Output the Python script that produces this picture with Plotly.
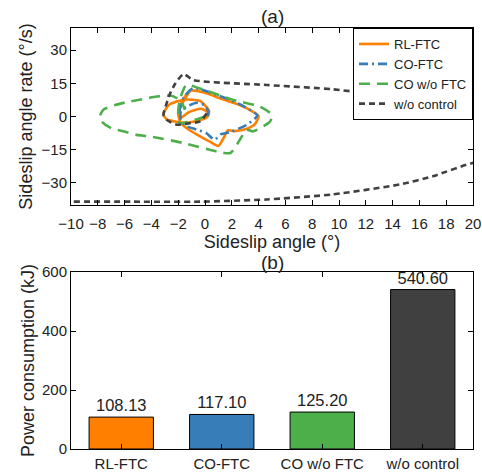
import plotly.graph_objects as go

# ---- data (a): phase trajectories (sideslip angle [deg], rate [deg/s]) ----
rl_x = [0.2, 0.3, -0.37, -1.6, -2.7, -3.1, -2.85, -1.6, -0.6, 0.1, 0.3, -0.3, -1.2, -1.9, -2.0, -1.7, -1.1,
        0.0, 1.2, 2.5, 3.4, 4.0, 3.7, 3.0, 2.2, 1.7, 1.4, 1.0, 0.4, -0.5, -1.2, -1.8, -2.0, -1.6, -1.1]
rl_y = [0.0, 2.6, 7.0, 7.6, 5.2, 0.9, -1.3, -2.8, -2.0, -0.6, 1.5, 3.5, 2.0, -1.0, 1.7, 7.0, 11.7,
        10.7, 8.0, 5.4, 2.8, 0.2, -3.6, -5.8, -6.6, -6.3, -9.6, -13.3, -11.5, -8.5, -6.0, -3.0, 1.7, 7.0, 11.7]

co_x = [0.2, 0.25, 0.0, -0.6, -1.25, -1.8, -1.8, -1.5, -0.6, 0.1, 0.7, 1.2, 1.9, 3.1, 3.9,
        2.5, 1.0, -0.9, -1.6, -1.9, -1.8]
co_y = [0.2, 2.0, 5.0, 6.2, 4.8, 2.4, -1.5, -4.0, -6.0, -7.5, -10.5, -8.0, -7.0, -3.8, 0.5,
        5.8, 9.5, 12.8, 8.4, 2.5, -1.0]

cow_x = [0.0, -1.9, -2.0, -1.9, -1.4, -0.4, 2.1, 4.1, 5.0, 4.85, 3.6, 3.1, 2.6, 1.9, 0.9, -1.6, -4.1,
         -5.1, -6.0, -7.0, -7.7, -7.84, -7.6, -6.7, -5.6, -4.7, -3.6, -2.5, -1.8, -1.5]
cow_y = [0.0, -3.0, 1.0, 7.0, 14.2, 12.7, 7.5, 4.5, 0.7, -2.3, -6.7, -6.0, -10.5, -16.5, -15.8, -12.0, -9.0,
         -8.3, -6.8, -5.3, -2.3, 0.0, 3.0, 5.2, 6.8, 7.8, 9.0, 9.4, 7.0, 3.0]

woc_x = [0.13, -0.37, -1.1, -2.1, -2.86, -3.1, -2.86, -2.6, -2.2, -1.6, -0.87, 4.6, 9.55, 12.1, 14.55, 17.0, 20.0,
         24.0, 28.0, 29.0, 26.0, 20.0, 17.0, 14.55, 9.55, 4.6, -0.37, -5.35, -10.0, -13.0]
woc_y = [1.5, -2.25, -3.0, -3.7, -1.5, 0.75, 6.0, 10.5, 15.0, 19.2, 16.5, 14.25, 12.3, 10.5, 9.0, 9.0, 10.5,
         13.0, 8.0, -8.0, -16.0, -21.0, -27.0, -30.7, -35.2, -37.5, -38.5, -38.5, -38.5, -38.5]

x_ticks_a = list(range(-10, 21, 2))
y_ticks_a = [-30, -15, 0, 15, 30]

# ---- data (b): power consumption ----
methods = ["RL-FTC", "CO-FTC", "CO w/o FTC", "w/o control"]
power = [108.13, 117.10, 125.20, 540.60]
y_ticks_b = [0, 200, 400, 600]

colors = ["#FF7F00", "#377EB8", "#4DAF4A", "#404040"]
FONT = "Liberation Sans, Arial, sans-serif"

fig = go.Figure()
series = [
    ("RL-FTC", rl_x, rl_y, colors[0], "solid"),
    ("CO-FTC", co_x, co_y, colors[1], "9px,4px,2px,4px"),
    ("CO w/o FTC", cow_x, cow_y, colors[2], "11px,7px"),
    ("w/o control", woc_x, woc_y, colors[3], "6px,4px"),
]
for name, xs, ys, c, d in series:
    fig.add_trace(go.Scatter(x=xs, y=ys, mode="lines", name=name,
                             line=dict(color=c, width=2.6, dash=d, shape="spline", smoothing=0.6),
                             xaxis="x", yaxis="y"))

fig.add_trace(go.Bar(x=methods, y=power, marker=dict(color=colors, line=dict(color="black", width=1)),
                     width=0.64, text=[f"{v:.2f}" for v in power], textposition="outside",
                     textfont=dict(size=16.5, color="#222"), cliponaxis=False, showlegend=False,
                     xaxis="x2", yaxis="y2"))

axis_common = dict(showline=True, linecolor="black", linewidth=1, mirror="ticks", ticks="inside",
                   ticklen=5, tickcolor="black", showgrid=False, zeroline=False, automargin=False,
                   tickfont=dict(size=15, color="#222", family=FONT))

fig.update_layout(
    width=482, height=472, margin=dict(l=71, r=9, t=28, b=23, autoexpand=False),
    paper_bgcolor="white", plot_bgcolor="white",
    font=dict(family=FONT, color="#222"),
    xaxis=dict(domain=[0, 1], range=[-10, 20], tickvals=x_ticks_a, anchor="y", ticklabelstandoff=5,
               title=dict(text="Sideslip angle (°)", font=dict(size=18), standoff=0), **axis_common),
    yaxis=dict(domain=[0.5796, 1], range=[-40, 40], tickvals=y_ticks_a, anchor="x",
               title=dict(text="Sideslip angle rate (°/s)", font=dict(size=18), standoff=4), **axis_common),
    xaxis2=dict(domain=[0, 1], range=[-0.5, 3.5], anchor="y2", ticklabelstandoff=1, **axis_common),
    yaxis2=dict(domain=[0, 0.4204], range=[0, 600], tickvals=y_ticks_b, anchor="x2",
                title=dict(text="Power consumption (kJ)", font=dict(size=18), standoff=2), **axis_common),
    legend=dict(x=1.0, y=1.0, xanchor="right", yanchor="top", xref="paper", yref="paper",
                bgcolor="white", bordercolor="black", borderwidth=1,
                font=dict(size=13, family=FONT), tracegroupgap=0, itemwidth=30,
                traceorder="normal"),
    annotations=[
        dict(text="(a)", x=0.5, y=1, xref="paper", yref="paper", yanchor="bottom",
             showarrow=False, font=dict(size=19), yshift=-1),
        dict(text="(b)", x=0.5, y=0.4204, xref="paper", yref="paper", yanchor="bottom",
             showarrow=False, font=dict(size=19), yshift=-3),
    ],
)

fig.write_html("out.html")
